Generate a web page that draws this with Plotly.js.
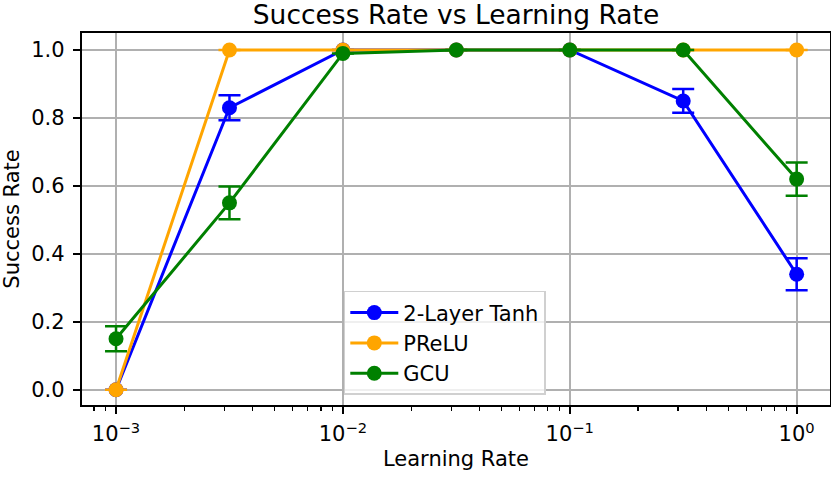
<!DOCTYPE html>
<html>
<head>
<meta charset="utf-8">
<script src="https://cdn.plot.ly/plotly-3.0.1.min.js"></script>
<style>body{margin:0;} #chart{width:831px;height:477px;}</style>
</head>
<body>
<div id="chart"></div>
<script>
// learning rates: 1e-3 ... 1 in half-decade steps
let learningRates = [0.001, 0.0031623, 0.01, 0.031623, 0.1, 0.31623, 1];

let tanhRate = [0.0, 0.83, 1.0, 1.0, 1.0, 0.85, 0.34];
let tanhErr = [0.0, 0.037, 0.0, 0.0, 0.0, 0.035, 0.047];

let preluRate = [0.0, 1.0, 1.0, 1.0, 1.0, 1.0, 1.0];
let preluErr = [0.0, 0.0, 0.0, 0.0, 0.0, 0.0, 0.0];

let gcuRate = [0.15, 0.55, 0.99, 1.0, 1.0, 1.0, 0.62];
let gcuErr = [0.037, 0.048, 0.0, 0.0, 0.0, 0.0, 0.049];

let yTicks = [0.0, 0.2, 0.4, 0.6, 0.8, 1.0];
let xTicks = [0.001, 0.01, 0.1, 1];
let xTickText = ['10<sup>\u22123</sup>', '10<sup>\u22122</sup>', '10<sup>\u22121</sup>', '10<sup>0</sup>'];

function makeTrace(name, y, err, color) {
    return {
        x: learningRates,
        y: y,
        name: name,
        type: 'scatter',
        mode: 'lines+markers',
        line: { color: color, width: 3 },
        marker: { color: color, size: 15 },
        error_y: { type: 'data', array: err, visible: true, color: color, thickness: 2.5, width: 11 }
    };
}

let data = [
    makeTrace('2-Layer Tanh', tanhRate, tanhErr, '#0000ff'),
    makeTrace('PReLU', preluRate, preluErr, '#ffa500'),
    makeTrace('GCU', gcuRate, gcuErr, '#008000')
];

let font = "'DejaVu Sans', sans-serif";

let axisStyle = {
    showgrid: true,
    gridcolor: '#b0b0b0',
    gridwidth: 1.7,
    zeroline: false,
    showline: true,
    linecolor: 'black',
    linewidth: 1.7,
    mirror: true,
    ticks: 'outside',
    ticklen: 7.5,
    tickwidth: 1.7,
    tickcolor: 'black',
    tickfont: { size: 21 }
};

let layout = {
    width: 831,
    height: 477,
    margin: { l: 82, r: 1, t: 33, b: 72 },
    paper_bgcolor: 'white',
    plot_bgcolor: 'white',
    font: { family: font, size: 21, color: 'black' },
    title: { text: 'Success Rate vs Learning Rate', font: { size: 26.5 }, xref: 'paper', x: 0.5, xanchor: 'center', y: 0.988, yanchor: 'top' },
    xaxis: Object.assign({}, axisStyle, {
        type: 'log',
        range: [-3.15, 0.147],
        tickvals: xTicks,
        ticktext: xTickText,
        ticklabelstandoff: 2,
        minor: { dtick: 'D1', ticks: 'outside', ticklen: 4.3, tickwidth: 1.3, tickcolor: 'black', showgrid: false },
        title: { text: 'Learning Rate', font: { size: 21 }, standoff: 6 }
    }),
    yaxis: Object.assign({}, axisStyle, {
        range: [-0.045, 1.05],
        tickvals: yTicks,
        ticktext: yTicks.map((v) => v.toFixed(1)),
        ticklabelstandoff: 4,
        title: { text: 'Success Rate', font: { size: 21 }, standoff: 6 }
    }),
    legend: {
        x: 0.35, y: 0.027, xanchor: 'left', yanchor: 'bottom',
        bgcolor: 'rgba(255,255,255,0.8)',
        bordercolor: '#d0d0d0',
        borderwidth: 1.5,
        font: { size: 21 },
        itemwidth: 48
    },
    showlegend: true
};

Plotly.newPlot('chart', data, layout, { displayModeBar: false, staticPlot: true });
</script>
</body>
</html>
